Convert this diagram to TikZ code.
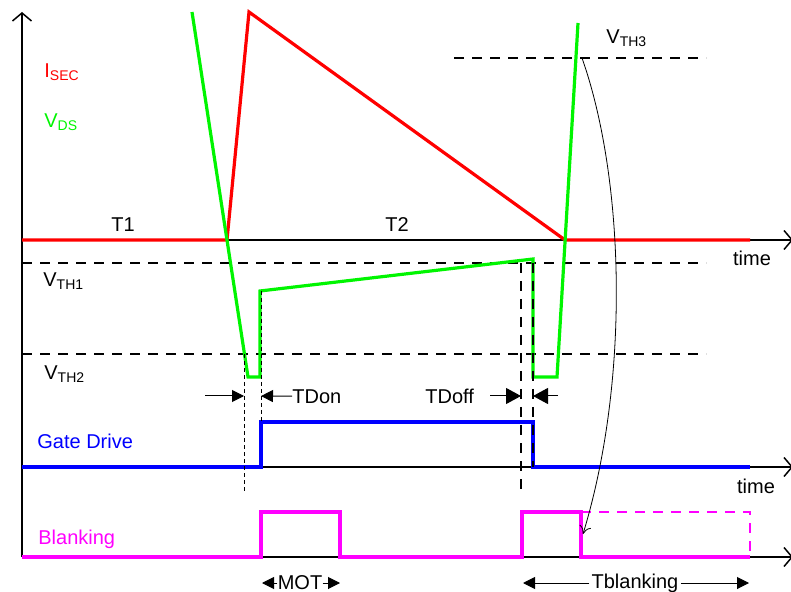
\documentclass[tikz,border=0pt]{standalone}
\usepackage{fontspec}
\setmainfont{Liberation Sans}
\usetikzlibrary{arrows.meta,positioning}
\definecolor{isec}{RGB}{255,0,0}
\definecolor{vds}{RGB}{0,245,0}
\definecolor{gate}{RGB}{0,0,255}
\definecolor{blank}{RGB}{255,0,255}
\tikzset{
  ax/.style={line width=.75pt,-{Straight Barb[length=4pt,width=9.5pt]}},
  wave/.style={line width=1.6pt},
  thr/.style={line width=.75pt,dash pattern=on 5pt off 4pt},
  guide/.style={line width=.45pt,dash pattern=on 2pt off 1.5pt},
  cut/.style={line width=.75pt,dash pattern=on 5pt off 4pt},
  tip/.style={line width=.5pt,-{Triangle[length=6pt,width=6pt]}},
  tipb/.style={line width=.5pt,-{Triangle[length=7.5pt,width=8pt]}},
  lbl/.style={anchor=base west,inner sep=0pt},
}

\begin{document}
\begin{tikzpicture}[x=0.5pt,y=-0.5pt,font=\fontsize{10}{12}\selectfont]
	\useasboundingbox (0,0) rectangle (791,592);
	
	% axes
	\coordinate (o) at (22,557);
	\coordinate (ytop) at (22,12);
	\coordinate (a1) at (22,240);
	\coordinate (a1e) at (793,240);
	\coordinate (a2) at (22,467);
	\coordinate (a2e) at (793,467);
	\coordinate (a3e) at (793,557);
	\draw[ax] (o) -- (ytop);
	\draw[ax] (a1) -- (a1e);
	\draw[ax] (a2) -- (a2e);
	\draw[ax] (o) -- (a3e);
	
	% thresholds
	\draw[thr] (22,263) -- (706,263);
	\draw[thr] (22,354) -- (706,354);
	\draw[thr] (454,58) -- (706,58);
	
	% waveforms
	\draw[wave,isec] (22,240) -- (227,240) -- (249,12) -- (565,240) -- (750,240);
	\draw[wave,vds] (192,12) -- (248,377) -- (260,377) -- (260,291) -- (533,259)
		-- (533,377) -- (557,377) -- (578,23);
	\draw[wave,gate] (22,467) -- (261,467) -- (261,422) -- (533,422) -- (533,467) -- (750,467);
	\draw[wave,blank] (22,557) -- (261,557) -- (261,512) -- (340,512) -- (340,557)
		-- (522,557) -- (522,512) -- (581,512) -- (581,557) -- (750,557);
	\draw[blank,line width=1pt,dash pattern=on 5pt off 4pt] (581,512) -- (750,512) -- (750,557);
	
	% timing guides
	\draw[guide] (244,354) -- (244,491);
	\draw[guide] (261,291) -- (261,422);
	\draw[cut] (521,263) -- (521,491);
	\draw[cut] (533,263) -- (533,467);
	
	% labels
	\node[lbl,isec] (lisec) at (44,78) {I\textsubscript{SEC}};
	\node[lbl,vds] (lvds) at (44,128) {V\textsubscript{DS}};
	\node[lbl] (lth1) at (43,287) {V\textsubscript{TH1}};
	\node[lbl] (lth2) at (44,380) {V\textsubscript{TH2}};
	\node[lbl] (lth3) at (606,44) {V\textsubscript{TH3}};
	\node[anchor=base,inner sep=0pt] (lt1) at (123,232) {T1};
	\node[anchor=base,inner sep=0pt] (lt2) at (397,232) {T2};
	\node[anchor=base,inner sep=0pt] (time1) at (752,266) {time};
	\node[anchor=base,inner sep=0pt] (time2) at (756,493) {time};
	\node[lbl,gate] (lgate) at (37,448) {Gate Drive};
	\node[lbl,blank] (lblank) at (38,544) {Blanking};
	
	% TDon / TDoff
	\coordinate (on0) at (205,396);
	\coordinate (on1) at (244,396);
	\coordinate (on2) at (261,396);
	\node[lbl] (tdon) at (292,403) {TDon};
	\draw[tip] (on0) -- (on1);
	\draw[tip] (tdon.west) -- (on2);
	\coordinate (off0) at (490,396);
	\coordinate (off1) at (521,396);
	\coordinate (off2) at (558,396);
	\coordinate (off3) at (533,396);
	\node[lbl] (tdoff) at (425,403) {TDoff};
	\draw[tipb] (off0) -- (off1);
	\draw[tipb] (off2) -- (off3);
	
	% MOT / Tblanking
	\node[inner sep=0pt] (mot) at (300,583) {MOT};
	\coordinate (mot0) at (262,583);
	\coordinate (mot1) at (340,583);
	\draw[tip] (mot.west) -- (mot0);
	\draw[tip] (mot.east) -- (mot1);
	\node[inner sep=1pt] (tbl) at (635,583) {Tblanking};
	\coordinate (tb0) at (523,583);
	\coordinate (tb1) at (749,583);
	\draw[tip] (tbl) -- (tb0);
	\draw[tip] (tbl) -- (tb1);
	
	% VTH3 to blanking end
	\coordinate (v3) at (582,58);
	\coordinate (bk) at (583,534);
	\draw[line width=.4pt,-{To[length=4pt,width=6pt]}] (v3) .. controls (625,180) and (630,380) .. (bk);

\end{tikzpicture}
\end{document}
